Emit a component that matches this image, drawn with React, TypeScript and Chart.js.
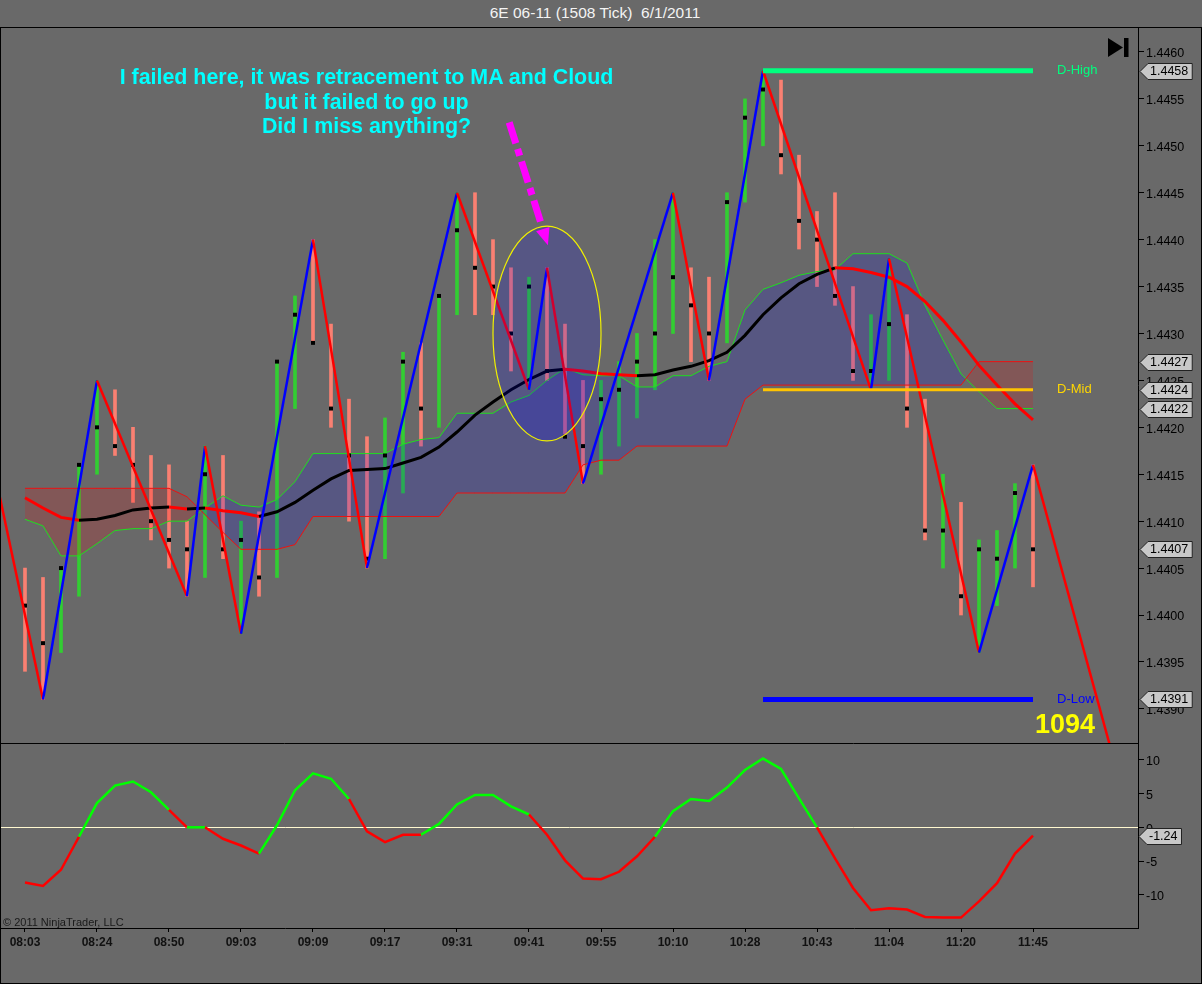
import React, { useEffect, useRef } from "react";
import { Chart, registerables } from "chart.js";

Chart.register(...registerables);

const FONT = '"Liberation Sans", Arial, Helvetica, sans-serif';
Chart.defaults.font.family = FONT;

// ---------------- DATA ----------------
const chartTitle = "6E 06-11 (1508 Tick)  6/1/2011";
const noteLines = [
  "I failed here, it was retracement to MA and Cloud",
  "but it failed to go up",
  "Did I miss anything?",
];
const ticksRemaining = "1094";
const copyright = "\u00a9 2011 NinjaTrader, LLC";

const timeLabels = ["08:03", "08:24", "08:50", "09:03", "09:09", "09:17", "09:31", "09:41", "09:55", "10:10", "10:28", "10:43", "11:04", "11:20", "11:45"];
const timeLabelBars = [0, 4, 8, 12, 16, 20, 24, 28, 32, 36, 40, 44, 48, 52, 56];

const barOpen = [1.4403, 1.4401, 1.4397, 1.4405, 1.4416, 1.4420, 1.4418, 1.4416, 1.4410, 1.4408, 1.4407, 1.4415, 1.4407, 1.4408, 1.4404, 1.4427, 1.4432, 1.4429, 1.4422, 1.4417, 1.4406, 1.4417, 1.4427, 1.4422, 1.4434, 1.4441, 1.4437, 1.4435, 1.4430, 1.4435, 1.4426, 1.4419, 1.4418, 1.4423, 1.4424, 1.4427, 1.4430, 1.4436, 1.4433, 1.4430, 1.4444, 1.4453, 1.4456, 1.4449, 1.4442, 1.4440, 1.4434, 1.4425, 1.4426, 1.4431, 1.4422, 1.4408, 1.4409, 1.4402, 1.4405, 1.4406, 1.4413];
const barHigh = [1.4405, 1.4404, 1.4405, 1.4416, 1.4425, 1.4424, 1.4420, 1.4417, 1.4416, 1.4410, 1.4418, 1.4417, 1.4410, 1.4411, 1.4427, 1.4434, 1.4440, 1.4431, 1.4423, 1.4419, 1.4421, 1.4428, 1.4429, 1.4434, 1.4445, 1.4445, 1.4440, 1.4437, 1.4436, 1.4437, 1.4431, 1.4425, 1.4425, 1.4427, 1.4430, 1.4440, 1.4445, 1.4437, 1.4436, 1.4445, 1.4455, 1.4458, 1.4457, 1.4449, 1.4443, 1.4445, 1.4435, 1.4432, 1.4438, 1.4432, 1.4423, 1.4415, 1.4412, 1.4408, 1.4409, 1.4414, 1.4416];
const barLow = [1.4394, 1.4391, 1.4396, 1.4402, 1.4415, 1.4417, 1.4412, 1.4408, 1.4405, 1.4402, 1.4404, 1.4406, 1.4398, 1.4402, 1.4404, 1.4422, 1.4429, 1.4420, 1.4410, 1.4405, 1.4406, 1.4413, 1.4418, 1.4420, 1.4432, 1.4432, 1.4432, 1.4426, 1.4424, 1.4425, 1.4419, 1.4414, 1.4415, 1.4418, 1.4421, 1.4424, 1.4430, 1.4427, 1.4425, 1.4429, 1.4444, 1.4450, 1.4447, 1.4439, 1.4435, 1.4433, 1.4425, 1.4424, 1.4425, 1.4420, 1.4408, 1.4405, 1.4400, 1.4396, 1.4401, 1.4405, 1.4403];
const barClose = [1.4401, 1.4397, 1.4405, 1.4416, 1.4420, 1.4418, 1.4416, 1.4410, 1.4408, 1.4407, 1.4415, 1.4407, 1.4408, 1.4404, 1.4427, 1.4432, 1.4429, 1.4422, 1.4417, 1.4406, 1.4417, 1.4427, 1.4422, 1.4434, 1.4441, 1.4437, 1.4435, 1.4430, 1.4435, 1.4426, 1.4419, 1.4418, 1.4423, 1.4424, 1.4427, 1.4430, 1.4436, 1.4433, 1.4430, 1.4444, 1.4453, 1.4456, 1.4449, 1.4442, 1.4440, 1.4434, 1.4426, 1.4426, 1.4431, 1.4422, 1.4409, 1.4409, 1.4402, 1.4407, 1.4406, 1.4413, 1.4407];

const movingAverage = [1.44125, 1.44114, 1.44104, 1.44101, 1.44102, 1.44106, 1.44112, 1.44114, 1.44115, 1.44113, 1.44114, 1.44111, 1.44109, 1.44105, 1.44110, 1.44120, 1.44133, 1.44145, 1.44154, 1.44155, 1.44156, 1.44162, 1.44168, 1.44179, 1.44195, 1.44213, 1.44227, 1.44240, 1.44251, 1.44260, 1.44262, 1.44260, 1.44257, 1.44256, 1.44255, 1.44256, 1.44261, 1.44265, 1.44271, 1.44280, 1.44298, 1.44320, 1.44338, 1.44353, 1.44363, 1.44370, 1.44369, 1.44365, 1.44360, 1.44350, 1.44334, 1.44314, 1.44291, 1.44266, 1.44245, 1.44225, 1.44208];

const cloudSpanA = [1.44102, 1.44095, 1.44063, 1.44063, 1.44076, 1.44090, 1.44092, 1.44092, 1.44100, 1.44100, 1.44114, 1.44127, 1.44117, 1.44115, 1.44123, 1.44142, 1.44172, 1.44172, 1.44172, 1.44172, 1.44172, 1.44182, 1.44187, 1.44189, 1.44215, 1.44215, 1.44215, 1.44227, 1.44234, 1.44250, 1.44263, 1.44256, 1.44255, 1.44255, 1.44243, 1.44243, 1.44255, 1.44255, 1.44265, 1.44270, 1.44325, 1.44347, 1.44354, 1.44362, 1.44366, 1.44368, 1.44385, 1.44385, 1.44385, 1.44375, 1.44330, 1.44293, 1.44257, 1.44238, 1.44220, 1.44220, 1.44220];
const cloudSpanB = [1.44135, 1.44135, 1.44135, 1.44135, 1.44135, 1.44135, 1.44135, 1.44135, 1.44135, 1.44126, 1.44107, 1.44088, 1.44070, 1.44070, 1.44070, 1.44075, 1.44105, 1.44105, 1.44105, 1.44105, 1.44105, 1.44105, 1.44105, 1.44105, 1.44130, 1.44130, 1.44130, 1.44130, 1.44130, 1.44130, 1.44130, 1.44160, 1.44165, 1.44165, 1.44180, 1.44180, 1.44180, 1.44180, 1.44180, 1.44180, 1.44230, 1.44245, 1.44245, 1.44245, 1.44245, 1.44245, 1.44245, 1.44245, 1.44245, 1.44245, 1.44245, 1.44245, 1.44245, 1.44270, 1.44270, 1.44270, 1.44270];

const zigzagBars = [-2, 1, 4, 9, 10, 12, 16, 19, 24, 28, 29, 31, 36, 38, 41, 47, 48, 53, 56, 61];
const zigzagPrices = [1.4418, 1.4391, 1.4425, 1.4402, 1.4418, 1.4398, 1.4440, 1.4405, 1.4445, 1.4424, 1.4437, 1.4414, 1.4445, 1.4425, 1.4458, 1.4424, 1.4438, 1.4396, 1.4416, 1.4381];

const dayHigh = 1.4458;
const dayMid = 1.4424;
const dayLow = 1.4391;
const levelBars = [41, 56];

const oscValues = [-8.2, -8.7, -6.3, -1.4, 3.6, 6.2, 6.8, 5.2, 2.6, 0.0, 0.0, -1.7, -2.7, -3.9, 0.3, 5.5, 8.0, 7.2, 4.2, -0.6, -2.2, -1.1, -1.1, 0.5, 3.4, 4.8, 4.8, 3.1, 1.9, -1.1, -4.9, -7.6, -7.7, -6.6, -4.3, -1.4, 2.4, 4.2, 3.9, 5.9, 8.5, 10.2, 8.65, 4.3, 0.0, -4.6, -9.0, -12.3, -12.0, -12.2, -13.3, -13.4, -13.4, -11.0, -8.3, -3.9, -1.24];
const oscTrend = [-1, -1, -1, -1, 1, 1, 1, 1, 1, -1, 1, -1, -1, -1, 1, 1, 1, 1, 1, -1, -1, -1, -1, 1, 1, 1, 1, 1, 1, -1, -1, -1, -1, -1, -1, -1, 1, 1, 1, 1, 1, 1, 1, 1, 1, -1, -1, -1, -1, -1, -1, -1, -1, -1, -1, -1, -1];

// annotation (data coordinates)
const ellipseCenter = { x: 29, y: 1.4430 };
const ellipseRadius = { x: 3.0, y: 0.001145 };
const arrowFrom = { x: 26.9, y: 1.44525 };
const arrowTo = { x: 29.05, y: 1.44394 };

// axis ranges
const X_MIN = -1.3333;
const X_MAX = 61.8333;
const PRICE_MIN = 1.438636;
const PRICE_MAX = 1.446266;
const OSC_MIN = -14.94;
const OSC_MAX = 12.51;

// ---------------- STYLES ----------------
const UP_COLOR = "#32cd32";
const DOWN_COLOR = "#fa8072";

function noScalePadding(s: any) {
  s.paddingTop = 0;
  s.paddingBottom = 0;
  s.paddingLeft = 0;
  s.paddingRight = 0;
}

function drawTag(ctx: CanvasRenderingContext2D, x: number, y: number, text: string) {
  ctx.save();
  ctx.font = `12.5px ${FONT}`;
  const tw = ctx.measureText(text).width;
  const notch = 8;
  const w = tw + 6;
  ctx.beginPath();
  ctx.moveTo(x, y);
  ctx.lineTo(x + notch, y - 8);
  ctx.lineTo(x + notch + w, y - 8);
  ctx.lineTo(x + notch + w, y + 8);
  ctx.lineTo(x + notch, y + 8);
  ctx.closePath();
  ctx.fillStyle = "#c8c8c8";
  ctx.fill();
  ctx.strokeStyle = "#222";
  ctx.lineWidth = 1;
  ctx.stroke();
  ctx.fillStyle = "#000";
  ctx.textAlign = "left";
  ctx.textBaseline = "middle";
  ctx.fillText(text, x + notch + 2, y + 0.5);
  ctx.restore();
}

const priceDecor = {
  id: "priceDecor",
  afterDatasetsDraw(chart: any) {
    const { ctx, chartArea, scales } = chart;
    const xs = scales.x;
    const ys = scales.y;
    ctx.save();
    ctx.beginPath();
    ctx.rect(chartArea.left, chartArea.top, chartArea.right - chartArea.left, chartArea.bottom - chartArea.top);
    ctx.clip();

    // highlight ellipse
    const cx = xs.getPixelForValue(ellipseCenter.x);
    const cy = ys.getPixelForValue(ellipseCenter.y);
    const rx = Math.abs(xs.getPixelForValue(ellipseCenter.x + ellipseRadius.x) - cx);
    const ry = Math.abs(ys.getPixelForValue(ellipseCenter.y + ellipseRadius.y) - cy);
    ctx.beginPath();
    ctx.ellipse(cx, cy, rx, ry, 0, 0, Math.PI * 2);
    ctx.fillStyle = "rgba(0,0,255,0.18)";
    ctx.fill();
    ctx.strokeStyle = "#f0f000";
    ctx.lineWidth = 1.2;
    ctx.stroke();

    // magenta arrow
    const ax = xs.getPixelForValue(arrowFrom.x);
    const ay = ys.getPixelForValue(arrowFrom.y);
    const bx = xs.getPixelForValue(arrowTo.x);
    const by = ys.getPixelForValue(arrowTo.y);
    const len = Math.hypot(bx - ax, by - ay);
    const ux = (bx - ax) / len;
    const uy = (by - ay) / len;
    const headLen = 17;
    const headHalf = 7;
    const hx = bx - ux * headLen;
    const hy = by - uy * headLen;
    ctx.setLineDash([22, 6, 7, 6]);
    ctx.lineWidth = 7;
    ctx.lineCap = "butt";
    ctx.strokeStyle = "#ff00ff";
    ctx.beginPath();
    ctx.moveTo(ax, ay);
    ctx.lineTo(hx - ux * 3, hy - uy * 3);
    ctx.stroke();
    ctx.setLineDash([]);
    ctx.beginPath();
    ctx.moveTo(bx, by);
    ctx.lineTo(hx - uy * headHalf, hy + ux * headHalf);
    ctx.lineTo(hx + uy * headHalf, hy - ux * headHalf);
    ctx.closePath();
    ctx.fillStyle = "#ff00ff";
    ctx.fill();
    ctx.restore();

    // level labels
    ctx.save();
    ctx.font = `13px ${FONT}`;
    ctx.textAlign = "left";
    ctx.textBaseline = "middle";
    const lx = xs.getPixelForValue(levelBars[1]) + 24;
    ctx.fillStyle = "#00ff7f";
    ctx.fillText("D-High", lx, ys.getPixelForValue(dayHigh));
    ctx.fillStyle = "#ffd700";
    ctx.fillText("D-Mid", lx, ys.getPixelForValue(dayMid));
    ctx.fillStyle = "#0000ff";
    ctx.fillText("D-Low", lx, ys.getPixelForValue(dayLow));

    // remaining ticks counter
    ctx.font = `bold 27px ${FONT}`;
    ctx.textAlign = "right";
    ctx.textBaseline = "alphabetic";
    ctx.fillStyle = "#ffff00";
    ctx.fillText(ticksRemaining, chartArea.right - 43, chartArea.bottom - 10);
    ctx.restore();
  },
  afterDraw(chart: any) {
    const { ctx, chartArea, scales } = chart;
    const ys = scales.y;
    ctx.save();
    // panel separator
    ctx.strokeStyle = "#000";
    ctx.lineWidth = 1;
    ctx.beginPath();
    ctx.moveTo(chartArea.left - 1, chartArea.bottom + 0.5);
    ctx.lineTo(chartArea.right, chartArea.bottom + 0.5);
    ctx.stroke();
    // go-to-end icon
    const r = chartArea.right;
    const t = chartArea.top;
    ctx.fillStyle = "#000";
    ctx.beginPath();
    ctx.moveTo(r - 30, t + 11);
    ctx.lineTo(r - 30, t + 30);
    ctx.lineTo(r - 15, t + 20.5);
    ctx.closePath();
    ctx.fill();
    ctx.fillRect(r - 14, t + 11, 4.5, 19);
    ctx.restore();
    // axis value tags
    const tags = [
      dayHigh,
      cloudSpanB[cloudSpanB.length - 1],
      dayMid,
      cloudSpanA[cloudSpanA.length - 1],
      barClose[barClose.length - 1],
      dayLow,
    ];
    tags.forEach((v) => drawTag(ctx, chartArea.right + 2, Math.round(ys.getPixelForValue(v)) + 0.5, v.toFixed(4)));
  },
};

const oscDecor = {
  id: "oscDecor",
  afterDraw(chart: any) {
    const { ctx, chartArea, scales } = chart;
    const v = oscValues[oscValues.length - 1];
    drawTag(ctx, chartArea.right + 1, Math.round(scales.y.getPixelForValue(v)) + 0.5, v.toFixed(2));
  },
};

export default function App() {
  const priceRef = useRef<HTMLCanvasElement>(null);
  const oscRef = useRef<HTMLCanvasElement>(null);

  useEffect(() => {
    const idx = barClose.map((_, i) => i);
    const price = new Chart(priceRef.current as HTMLCanvasElement, {
      type: "line",
      data: {
        datasets: [
          {
            type: "bar",
            label: "Bars",
            data: idx.map((i) => ({ x: i, y: [barLow[i], barHigh[i]] })) as any,
            backgroundColor: idx.map((i) => (barClose[i] >= barOpen[i] ? UP_COLOR : DOWN_COLOR)),
            borderWidth: 0,
            barThickness: 3,
            grouped: false,
            order: 10,
          } as any,
          {
            label: "Span A",
            data: cloudSpanA.map((v, i) => ({ x: i, y: v })),
            borderColor: "#1ee01e",
            borderWidth: 1,
            pointRadius: 0,
            fill: { target: 2, above: "rgba(0,0,255,0.17)", below: "rgba(255,0,0,0.17)" },
            order: 8,
          } as any,
          {
            label: "Span B",
            data: cloudSpanB.map((v, i) => ({ x: i, y: v })),
            borderColor: "#ee1010",
            borderWidth: 1,
            pointRadius: 0,
            fill: false,
            order: 7,
          },
          {
            label: "Close",
            data: barClose.map((v, i) => ({ x: i, y: v })),
            showLine: false,
            pointStyle: "rect",
            pointRadius: 2.8,
            pointBackgroundColor: "#000",
            pointBorderWidth: 0,
            order: 6.5,
          } as any,
          {
            label: "MA",
            data: movingAverage.map((v, i) => ({ x: i, y: v })),
            borderColor: "#000",
            borderWidth: 3,
            pointRadius: 0,
            segment: {
              borderColor: (c: any) => (c.p1.parsed.y < c.p0.parsed.y ? "#ff0000" : "#000000"),
            },
            order: 6,
          } as any,
          {
            label: "ZigZag",
            data: zigzagBars.map((b, k) => ({ x: b, y: zigzagPrices[k] })),
            borderColor: "#ff0000",
            borderWidth: 2.5,
            pointRadius: 0,
            segment: {
              borderColor: (c: any) => (c.p1.parsed.y > c.p0.parsed.y ? "#0000ff" : "#ff0000"),
            },
            order: 5,
          } as any,
          {
            label: "D-High",
            data: levelBars.map((b) => ({ x: b, y: dayHigh })),
            borderColor: "#00ff7f",
            borderWidth: 5,
            pointRadius: 0,
            order: 4,
          },
          {
            label: "D-Mid",
            data: levelBars.map((b) => ({ x: b, y: dayMid })),
            borderColor: "#ffc400",
            borderWidth: 3,
            pointRadius: 0,
            order: 4,
          },
          {
            label: "D-Low",
            data: levelBars.map((b) => ({ x: b, y: dayLow })),
            borderColor: "#0000ff",
            borderWidth: 5,
            pointRadius: 0,
            order: 4,
          },
        ],
      },
      options: {
        animation: false,
        responsive: false,
        maintainAspectRatio: false,
        events: [],
        layout: { autoPadding: false, padding: { left: 1, top: 27, right: 0, bottom: 1 } },
        plugins: { legend: { display: false }, tooltip: { enabled: false } },
        scales: {
          x: { type: "linear", min: X_MIN, max: X_MAX, offset: false, display: false },
          y: {
            position: "right",
            min: PRICE_MIN,
            max: PRICE_MAX,
            ticks: {
              stepSize: 0.0005,
              includeBounds: false,
              color: "#000",
              font: { size: 12.5 },
              padding: 2,
              labelOffset: 2,
              callback: (v: any) => Number(v).toFixed(4),
            },
            grid: { drawOnChartArea: false, drawTicks: true, tickLength: 6, color: "#000", tickColor: "#000" },
            border: { display: true, color: "#000" },
            afterFit: (s: any) => {
              s.width = 64;
              noScalePadding(s);
            },
          } as any,
        },
      } as any,
      plugins: [priceDecor],
    });

    const osc = new Chart(oscRef.current as HTMLCanvasElement, {
      type: "line",
      data: {
        datasets: [
          {
            label: "Oscillator",
            data: oscValues.map((v, i) => ({ x: i, y: v })),
            borderColor: "#ff0000",
            borderWidth: 2.5,
            pointRadius: 0,
            segment: {
              borderColor: (c: any) => (oscTrend[c.p1DataIndex] > 0 ? "#00ff00" : "#ff0000"),
            },
          } as any,
        ],
      },
      options: {
        animation: false,
        responsive: false,
        maintainAspectRatio: false,
        events: [],
        layout: { autoPadding: false, padding: { left: 1, top: 5, right: 0, bottom: 0 } },
        plugins: { legend: { display: false }, tooltip: { enabled: false } },
        scales: {
          x: {
            type: "linear",
            min: X_MIN,
            max: X_MAX,
            offset: false,
            afterBuildTicks: (scale: any) => {
              scale.ticks = timeLabelBars.map((v) => ({ value: v }));
            },
            ticks: {
              autoSkip: false,
              maxRotation: 0,
              padding: 3,
              color: "#111",
              font: { size: 12, weight: "bold" },
              callback: (v: any) => {
                const k = timeLabelBars.indexOf(Number(v));
                return k >= 0 ? timeLabels[k] : "";
              },
            },
            grid: { drawOnChartArea: false, drawTicks: true, tickLength: 4, color: "#000", tickColor: "#000" },
            border: { display: true, color: "#000" },
            afterFit: (s: any) => {
              s.height = 56;
              noScalePadding(s);
            },
          } as any,
          y: {
            position: "right",
            min: OSC_MIN,
            max: OSC_MAX,
            ticks: {
              stepSize: 5,
              includeBounds: false,
              color: "#000",
              font: { size: 12.5 },
              padding: 2,
              labelOffset: 2,
            },
            grid: {
              drawOnChartArea: true,
              drawTicks: true,
              tickLength: 6,
              color: (c: any) => (c.tick && c.tick.value === 0 ? "#fff8d0" : "rgba(0,0,0,0)"),
              tickColor: "#000",
            },
            border: { display: true, color: "#000" },
            afterFit: (s: any) => {
              s.width = 64;
              noScalePadding(s);
            },
          } as any,
        },
      } as any,
      plugins: [oscDecor],
    });

    return () => {
      price.destroy();
      osc.destroy();
    };
  }, []);

  return (
    <div
      style={{
        position: "absolute",
        left: 0,
        top: 0,
        width: 1202,
        height: 984,
        background: "#696969",
        overflow: "hidden",
        fontFamily: FONT,
      }}
    >
      <div
        style={{
          position: "absolute",
          left: 0,
          top: 27,
          width: 1202,
          height: 957,
          border: "1px solid #000",
          boxSizing: "border-box",
        }}
      />
      <div
        style={{
          position: "absolute",
          left: 0,
          top: 0,
          width: 1190,
          height: 26,
          lineHeight: "26px",
          textAlign: "center",
          fontSize: 15.5,
          color: "#f4f4f4",
          whiteSpace: "pre",
        }}
      >
        {chartTitle}
      </div>
      <canvas
        ref={priceRef}
        width={1202}
        height={744}
        style={{ position: "absolute", left: 0, top: 0, width: 1202, height: 744 }}
      />
      <canvas
        ref={oscRef}
        width={1202}
        height={246}
        style={{ position: "absolute", left: 0, top: 738, width: 1202, height: 246 }}
      />
      <div
        style={{
          position: "absolute",
          left: 0,
          top: 65,
          width: 733,
          textAlign: "center",
          fontSize: 21.4,
          lineHeight: "24.5px",
          fontWeight: "bold",
          color: "#00ffff",
          whiteSpace: "nowrap",
        }}
      >
        {noteLines.map((l) => (
          <div key={l}>{l}</div>
        ))}
      </div>
      <div
        style={{
          position: "absolute",
          left: 3,
          top: 915.5,
          fontSize: 11,
          lineHeight: "13px",
          color: "#1a1a1a",
          whiteSpace: "nowrap",
        }}
      >
        {copyright}
      </div>
    </div>
  );
}
